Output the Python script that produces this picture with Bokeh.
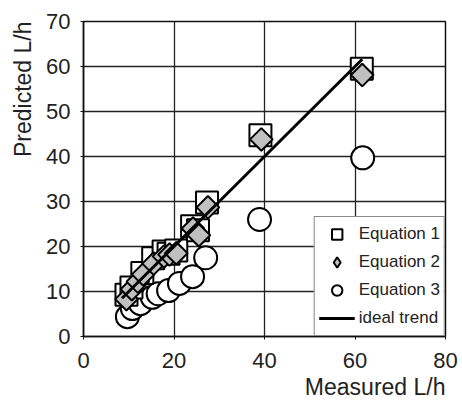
import math
from bokeh.plotting import figure
from bokeh.models import Legend, LegendItem, FixedTicker, Range1d, Title
from bokeh.embed import file_html
from bokeh.resources import INLINE

# Data
eq1_meas = [9.5, 10.6, 13.0, 15.4, 17.7, 18.8, 20.5, 24.0, 25.3, 27.3, 39.1, 61.5]
eq1_pred = [9.3, 10.9, 14.1, 17.4, 18.9, 18.4, 19.1, 24.5, 23.6, 29.8, 44.7, 59.5]

eq2_meas = [9.5, 10.7, 12.0, 13.2, 15.5, 17.8, 19.0, 20.5, 24.2, 25.5, 27.5, 39.3, 61.6]
eq2_pred = [8.3, 10.5, 12.2, 13.8, 16.2, 17.8, 18.2, 18.5, 24.0, 22.5, 28.7, 43.8, 58.1]

eq3_meas = [9.7, 10.8, 12.6, 15.2, 16.5, 18.8, 21.2, 24.1, 27.0, 38.9, 61.7]
eq3_pred = [4.4, 6.2, 7.3, 8.7, 9.5, 10.2, 11.8, 13.3, 17.5, 26.0, 39.7]

trend_x = [8.5, 61.6]
trend_y = [8.5, 61.6]

x_ticks = [0, 20, 40, 60, 80]
y_ticks = [0, 10, 20, 30, 40, 50, 60, 70]

x_label = "Measured L/h"
y_label = "Predicted L/h"

FONT = "Liberation Sans"

p = figure(width=462, height=400, output_backend="svg", toolbar_location=None,
           x_range=Range1d(0, 80), y_range=Range1d(0, 70),
           min_border_left=12, min_border_right=17, min_border_top=21, min_border_bottom=5)
p.background_fill_color = "white"
p.border_fill_color = "white"
p.outline_line_color = "#111111"
p.outline_line_width = 1.5

for ax in (p.xaxis[0], p.yaxis[0]):
    ax.axis_line_color = "#111111"
    ax.axis_line_width = 1.5
    ax.major_tick_in = 0
    ax.major_tick_out = 3
    ax.major_tick_line_color = "#111111"
    ax.minor_tick_line_color = None
    ax.major_label_text_font = FONT
    ax.major_label_text_font_size = "22px"
    ax.major_label_text_color = "#222222"

p.xaxis[0].ticker = FixedTicker(ticks=x_ticks)
p.yaxis[0].ticker = FixedTicker(ticks=y_ticks)
p.xaxis[0].major_label_standoff = 13
p.yaxis[0].major_label_standoff = 10

xt = Title(text=x_label, align="right", text_font=FONT, text_font_size="23px",
           text_font_style="normal", text_color="#222222", standoff=2, offset=0)
yt = Title(text=y_label, align="right", text_font=FONT, text_font_size="23px",
           text_font_style="normal", text_color="#222222", standoff=15, offset=0)
p.add_layout(xt, "below")
p.add_layout(yt, "left")

p.xgrid.ticker = FixedTicker(ticks=x_ticks)
p.ygrid.ticker = FixedTicker(ticks=y_ticks)
p.grid.grid_line_color = "#222222"
p.grid.grid_line_width = 1.3

r3 = p.scatter(eq3_meas, eq3_pred, marker="circle", size=23,
               fill_color="white", line_color="black", line_width=2)
r1 = p.scatter(eq1_meas, eq1_pred, marker="square", size=22,
               fill_color="white", line_color="black", line_width=2)
r2 = p.scatter(eq2_meas, eq2_pred, marker="square", size=16, angle=math.pi / 4,
               fill_color="#c0c0c0", line_color="black", line_width=2)
rl = p.line(trend_x, trend_y, line_color="black", line_width=3)
# legend-only stand-in for the diamond symbol (legend ignores marker angle); placed off-range
r2_leg = p.scatter([-100], [-100], marker="diamond", size=20,
                   fill_color="#c0c0c0", line_color="black", line_width=2)

legend = Legend(items=[
    LegendItem(label="Equation 1", renderers=[r1]),
    LegendItem(label="Equation 2", renderers=[r2_leg]),
    LegendItem(label="Equation 3", renderers=[r3]),
    LegendItem(label="ideal trend", renderers=[rl]),
], location="bottom_right")
legend.margin = 0
legend.padding = 4
legend.spacing = 2
legend.glyph_width = 36
legend.glyph_height = 26
legend.label_height = 20
legend.label_standoff = 4
legend.label_text_font = FONT
legend.label_text_font_size = "17px"
legend.label_text_color = "#222222"
legend.border_line_color = "#111111"
legend.border_line_width = 1.5
legend.background_fill_color = "white"
legend.background_fill_alpha = 1.0
p.add_layout(legend, "center")

open("out.html", "w").write(file_html(p, INLINE))
